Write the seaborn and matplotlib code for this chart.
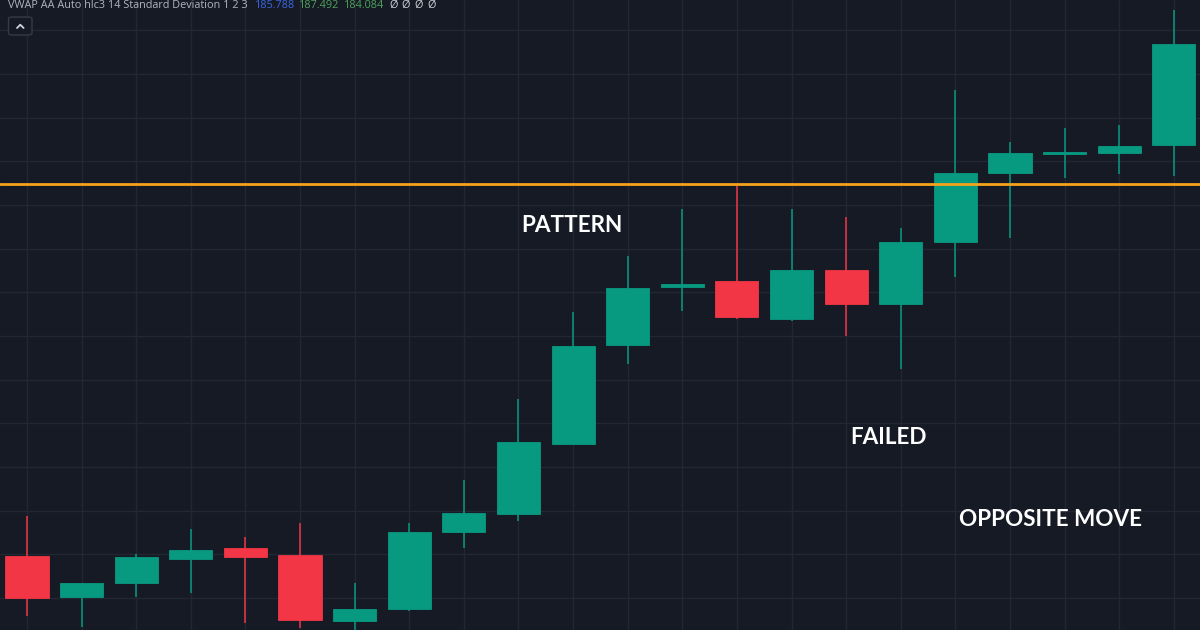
import matplotlib
matplotlib.use("Agg")
import matplotlib.pyplot as plt
from matplotlib.patches import FancyBboxPatch
from matplotlib.lines import Line2D
import numpy as np
import pandas as pd
import seaborn as sns

# ---- data (prices) ----
opens  = [181.48, 181.01, 181.17, 181.45, 181.57, 181.49, 180.74, 180.87, 181.76, 181.96, 182.76,
          183.90, 184.56, 184.63, 184.20, 184.76, 184.37, 185.08, 185.87, 186.09, 186.10, 186.19]
highs  = [181.94, 181.17, 181.50, 181.79, 181.70, 181.86, 181.17, 181.86, 182.35, 183.28, 184.28,
          184.92, 185.46, 185.73, 185.46, 185.36, 185.24, 186.82, 186.22, 186.38, 186.42, 187.74]
lows   = [180.79, 180.67, 181.01, 181.06, 180.71, 180.66, 180.61, 180.85, 181.57, 181.88, 182.76,
          183.68, 184.29, 184.20, 184.17, 184.00, 183.62, 184.68, 185.12, 185.81, 185.86, 185.83]
closes = [181.00, 181.17, 181.47, 181.55, 181.47, 180.75, 180.87, 181.76, 181.97, 182.79, 183.89,
          184.55, 184.60, 184.22, 184.76, 184.37, 185.08, 185.87, 186.10, 186.10, 186.18, 187.35]
vwap_level = 185.736
header_label = "VWAP AA Auto hlc3 14 Standard Deviation 1 2 3"
header_values = ["185.788", "187.492", "184.084"]
annotations = ["PATTERN", "FAILED", "OPPOSITE MOVE"]
annot_pos = [(9.98, 185.27), (15.77, 182.84), (18.74, 181.90)]

df = pd.DataFrame({"bar": np.arange(len(opens)), "open": opens, "high": highs,
                   "low": lows, "close": closes})

BG = "#161a25"
GRID = "#232733"
UP = "#089981"
DOWN = "#f23645"

sns.set_theme(style="dark", rc={"axes.facecolor": BG, "figure.facecolor": BG,
                                "grid.color": GRID, "axes.grid": True,
                                "grid.linewidth": 1.0})
plt.rcParams['font.family'] = ['Lato', 'DejaVu Sans']

fig = plt.figure(figsize=(12, 6.3), dpi=100)
ax = fig.add_axes([0, 0, 1, 1])
ax.set_facecolor(BG)

up = df["close"] >= df["open"]
colors = np.where(up, UP, DOWN)
body_bottom = np.minimum(df["open"], df["close"])
body_h = np.maximum(np.abs(df["close"] - df["open"]), 0.02)

# wicks
ax.vlines(df["bar"], df["low"], df["high"], colors=colors, linewidth=1.1, zorder=2)
# bodies
ax.bar(df["bar"], body_h, bottom=body_bottom, width=0.79, color=colors,
       edgecolor=colors, linewidth=0.6, zorder=3)

# VWAP line
ax.axhline(vwap_level, color="#f7a21b", linewidth=2.0, zorder=4)

ax.set_xticks(np.arange(len(opens)))
ax.set_yticks(np.arange(180.5, 188.5, 0.5))
ax.set_xlim(-0.4945, 21.48)
ax.set_ylim(180.633, 187.849)
ax.tick_params(length=0, labelbottom=False, labelleft=False)
ax.grid(True, color=GRID, linewidth=1.0, zorder=0)
ax.set_axisbelow(True)
for s in ax.spines.values():
    s.set_visible(False)

for txt, (x, y) in zip(annotations, annot_pos):
    ax.text(x, y, txt, color="white", fontsize=16.2, fontweight="bold",
            ha="center", va="center", zorder=6)

# header text (pixel coordinates)
W, H = 1200, 630
def fx(px): return px / W
def fy(py): return 1 - py / H

hdr_y = fy(5.5)
hfam = ['Open Sans', 'DejaVu Sans']
fig.text(fx(8), hdr_y, header_label, color="#b2b5be", fontsize=7.8, va="center", ha="left",
         family=hfam)
fig.text(fx(255), hdr_y, header_values[0], color="#3a66e0", fontsize=7.8, va="center",
         family=hfam)
fig.text(fx(299), hdr_y, header_values[1], color="#4ea35a", fontsize=7.8, va="center",
         family=hfam)
fig.text(fx(344), hdr_y, header_values[2], color="#4ea35a", fontsize=7.8, va="center",
         family=hfam)
for k in range(4):
    fig.text(fx(389 + 12.7 * k), hdr_y, "Ø", color="#d1d4dc", fontsize=7.8, va="center",
             family=hfam)

# collapse button
btn = FancyBboxPatch((fx(8.5), fy(35)), fx(23.5), 18 / H,
                     boxstyle="round,pad=0,rounding_size=0.003",
                     transform=fig.transFigure, facecolor=BG, edgecolor="#363a45",
                     linewidth=1.0, zorder=10)
fig.patches.append(btn)
fig.add_artist(Line2D([fx(17), fx(20.3), fx(23.6)], [fy(28), fy(24.7), fy(28)],
                      transform=fig.transFigure, color="#d1d4dc", linewidth=1.3, zorder=11))

fig.savefig("out.png", dpi=100, facecolor=BG)
